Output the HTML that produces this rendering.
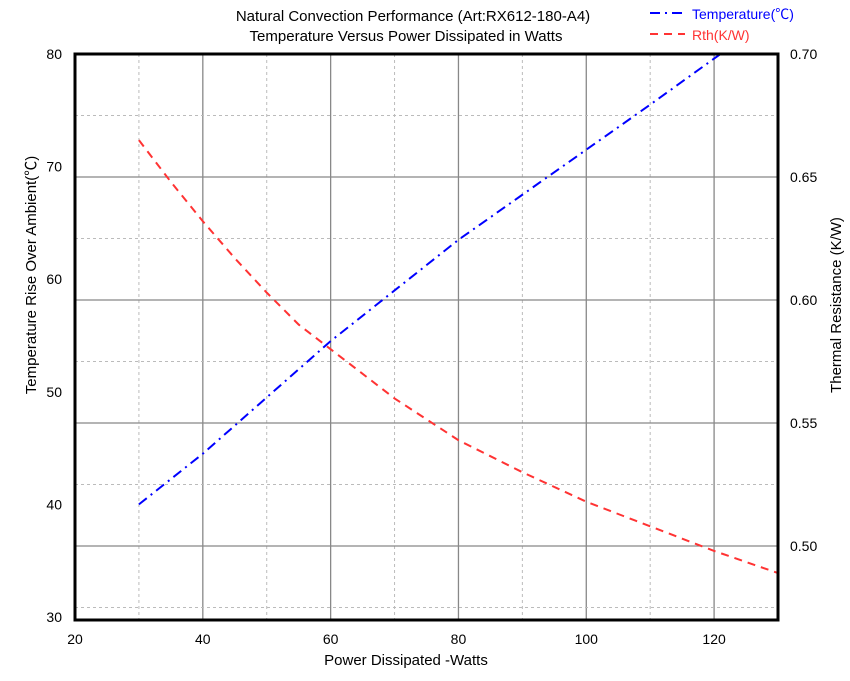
<!DOCTYPE html>
<html><head><meta charset="utf-8"><style>
body{margin:0;background:#fff;width:850px;height:676px;overflow:hidden;font-family:"Liberation Sans","Noto Sans CJK SC",sans-serif}
svg text{font-family:"Liberation Sans","Noto Sans CJK SC",sans-serif}
</style></head><body>
<svg id="chart" width="850" height="676" xmlns="http://www.w3.org/2000/svg">
<g id="grid"></g>
<g id="series"></g>
<g id="axes"></g>
<text x="413" y="21" font-size="15" text-anchor="middle">Natural Convection Performance  (Art:RX612-180-A4)</text>
<text x="406" y="41" font-size="15" text-anchor="middle">Temperature Versus Power Dissipated in Watts</text>
<g>
<line x1="650" y1="13" x2="685" y2="13" stroke="#0000ff" stroke-width="2" stroke-dasharray="10,5,2,5"/>
<text x="692" y="19" font-size="14" fill="#0000ff">Temperature(℃)</text>
<line x1="650" y1="34" x2="685" y2="34" stroke="#ff3333" stroke-width="2" stroke-dasharray="8,6"/>
<text x="692" y="40" font-size="14" fill="#ff3333">Rth(K/W)</text>
</g>
<text x="406" y="665" font-size="15" text-anchor="middle">Power Dissipated -Watts</text>
<text transform="translate(36,275) rotate(-90)" font-size="15" text-anchor="middle">Temperature Rise Over Ambient(℃)</text>
<text transform="translate(841,305) rotate(-90)" font-size="15" text-anchor="middle">Thermal Resistance (K/W)</text>
</svg>
<script>
const xTicks=[20,40,60,80,100,120];
const leftTicks=[30,40,50,60,70,80];
const rightTicks=["0.50","0.55","0.60","0.65","0.70"];
const tempX=[30,40,50,60,70,80,90,100,110,121];
const tempY=[40,44.5,49.5,54.5,59,63.5,67.5,71.5,75.5,80];
const rthX=[30,35,40,45,50,55,60,70,80,90,100,110,120,130];
const rthY=[0.665,0.648,0.632,0.617,0.603,0.590,0.580,0.560,0.543,0.530,0.518,0.508,0.498,0.489];

const L=75,R=778,T=54,B=620;
const sx=v=>L+(v-20)*(R-L)/110;
const syL=v=>54+(80-v)*(617-54)/50;
const syR=v=>54+(0.70-v)*(546-54)/0.20;
const NS="http://www.w3.org/2000/svg";
function mk(parent,tag,attrs){const e=document.createElementNS(NS,tag);for(const k in attrs)e.setAttribute(k,attrs[k]);document.getElementById(parent).appendChild(e);return e;}

// vertical grid
for(let v=30;v<130;v+=10){
  const solid=(v%20===0);
  const g=mk('grid','line',{x1:sx(v),x2:sx(v),y1:T,y2:B,stroke:solid?'#888':'#bbb','stroke-width':solid?1.3:1,'stroke-dasharray':solid?'':'3,3'});
  
  
}
// horizontal grid from right axis
for(let i=0;i<9;i++){
  const v=0.475+i*0.025;
  if(v>0.699)continue;
  const solid=(Math.round(v*1000)%50===0);
  const g=mk('grid','line',{x1:L,x2:R,y1:syR(v),y2:syR(v),stroke:solid?'#888':'#bbb','stroke-width':solid?1.3:1,'stroke-dasharray':solid?'':'3,3'});
  
  
}
// series
const tp=mk('series','polyline',{points:tempX.map((x,i)=>sx(x)+','+syL(tempY[i])).join(' '),fill:'none',stroke:'#0000ff','stroke-width':2,'stroke-dasharray':'10,5,2,5'});


const rp=mk('series','polyline',{points:rthX.map((x,i)=>sx(x)+','+syR(rthY[i])).join(' '),fill:'none',stroke:'#ff3333','stroke-width':2,'stroke-dasharray':'8,6'});


// border
const bd=mk('axes','path',{d:`M${L},${T}H${R}V${B}H${L}Z`,fill:'none',stroke:'#000','stroke-width':3});


xTicks.forEach(v=>{const t=mk('axes','text',{x:sx(v),y:644,'font-size':14,'text-anchor':'middle'});t.textContent=v;

});
leftTicks.forEach(v=>{const t=mk('axes','text',{x:62,y:syL(v)+5,'font-size':14,'text-anchor':'end'});t.textContent=v;

});
rightTicks.forEach(v=>{const t=mk('axes','text',{x:790,y:syR(+v)+5,'font-size':14});t.textContent=v;

});
</script>
</body></html>
